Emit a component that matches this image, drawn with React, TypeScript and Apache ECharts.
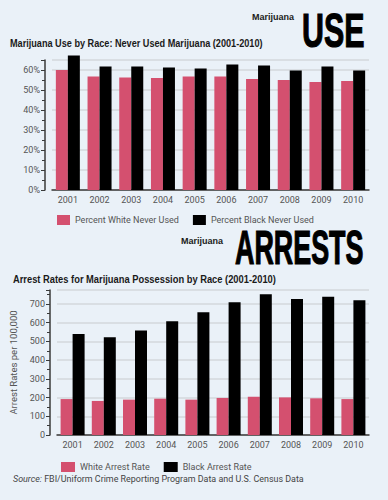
import React, { useEffect, useRef } from "react";
import * as echarts from "echarts";

const years = ["2001", "2002", "2003", "2004", "2005", "2006", "2007", "2008", "2009", "2010"];
const whiteNeverUsed = [60.0, 56.7, 56.2, 56.0, 56.8, 56.7, 55.5, 55.0, 54.0, 54.5];
const blackNeverUsed = [67.2, 61.7, 61.7, 61.3, 60.7, 62.8, 62.3, 59.8, 61.8, 59.7];
const whiteArrestRate = [192, 182, 189, 194, 189, 198, 205, 201, 196, 192];
const blackArrestRate = [540, 522, 559, 608, 656, 709, 752, 727, 739, 720];

const PINK = "#d4506f";
const BG = "#eaf1f8";
const AXIS = "#3a3a3a";
const GRIDLINE = "#d3d7dc";
const LABEL = "#555555";
const FONT = "Roboto, 'DejaVu Sans', sans-serif";
const BOLD = "'Liberation Sans', sans-serif";

export default function App() {
  const ref = useRef<HTMLDivElement>(null);
  useEffect(() => {
    document.body.style.margin = "0";
    const chart = echarts.init(ref.current!, null, { renderer: "svg" });
    const yAxisCommon = {
      offset: 7,
      axisLine: { show: true, lineStyle: { color: AXIS, width: 1.5 } },
      axisTick: { show: true, length: 4, lineStyle: { color: AXIS } },
      minorTick: { show: true, splitNumber: 2, length: 3, lineStyle: { color: AXIS } },
      splitLine: { show: true, lineStyle: { color: GRIDLINE, width: 1.5 } },
    };
    const xAxisCommon = {
      type: "category" as const,
      data: years,
      axisLine: { show: true, lineStyle: { color: AXIS, width: 1.5 } },
      axisTick: { show: false },
      axisLabel: { color: LABEL, fontSize: 9, fontFamily: FONT, margin: 5 },
    };
    chart.setOption({
      animation: false,
      backgroundColor: BG,
      grid: [
        { left: 52, right: 19, top: 60, bottom: 310 },
        { left: 57, right: 19, top: 290, bottom: 65 },
      ],
      xAxis: [
        { ...xAxisCommon, gridIndex: 0 },
        { ...xAxisCommon, gridIndex: 1 },
      ],
      yAxis: [
        {
          ...yAxisCommon,
          type: "value",
          gridIndex: 0,
          min: 0,
          max: 65,
          interval: 10,
          axisLabel: {
            color: LABEL,
            fontSize: 9,
            fontFamily: FONT,
            margin: 5,
            showMaxLabel: false,
            formatter: (v: number) => (v % 10 === 0 ? v + "%" : ""),
          },
        },
        {
          ...yAxisCommon,
          type: "value",
          gridIndex: 1,
          min: 0,
          max: 775,
          interval: 100,
          name: "Arrest Rates per 100,000",
          nameLocation: "middle",
          nameGap: 31,
          nameRotate: 90,
          nameTextStyle: { color: LABEL, fontSize: 9.5, fontFamily: FONT },
          axisLabel: {
            color: LABEL,
            fontSize: 9,
            fontFamily: FONT,
            margin: 5,
            showMaxLabel: false,
            formatter: (v: number) => (v % 100 === 0 ? String(v) : ""),
          },
        },
      ],
      legend: [
        {
          left: 52,
          top: 210,
          itemWidth: 13,
          itemHeight: 10,
          itemGap: 14,
          icon: "rect",
          textStyle: { color: LABEL, fontSize: 9, fontFamily: FONT },
          data: ["Percent White Never Used", "Percent Black Never Used"],
        },
        {
          left: 56,
          top: 457,
          itemWidth: 14,
          itemHeight: 10,
          itemGap: 14,
          icon: "rect",
          textStyle: { color: LABEL, fontSize: 9, fontFamily: FONT },
          data: ["White Arrest Rate", "Black Arrest Rate"],
        },
      ],
      series: [
        {
          name: "Percent White Never Used",
          type: "bar",
          xAxisIndex: 0,
          yAxisIndex: 0,
          data: whiteNeverUsed,
          barWidth: 12,
          barGap: "0%",
          clip: false,
          itemStyle: { color: PINK },
        },
        {
          name: "Percent Black Never Used",
          type: "bar",
          xAxisIndex: 0,
          yAxisIndex: 0,
          data: blackNeverUsed,
          barWidth: 12,
          barGap: "0%",
          clip: false,
          itemStyle: { color: "#000000" },
        },
        {
          name: "White Arrest Rate",
          type: "bar",
          xAxisIndex: 1,
          yAxisIndex: 1,
          data: whiteArrestRate,
          barWidth: 12,
          barGap: "0%",
          itemStyle: { color: PINK },
        },
        {
          name: "Black Arrest Rate",
          type: "bar",
          xAxisIndex: 1,
          yAxisIndex: 1,
          data: blackArrestRate,
          barWidth: 12,
          barGap: "0%",
          itemStyle: { color: "#000000" },
        },
      ],
      graphic: [
        {
          type: "text",
          x: 10,
          y: 43,
          scaleX: 0.87,
          style: {
            text: "Marijuana Use by Race: Never Used Marijuana (2001-2010)",
            fill: "#1a1a1a",
            font: `bold 10.5px ${BOLD}`,
            verticalAlign: "middle",
          },
        },
        {
          type: "text",
          x: 13,
          y: 279,
          scaleX: 0.89,
          style: {
            text: "Arrest Rates for Marijuana Possession by Race (2001-2010)",
            fill: "#1a1a1a",
            font: `bold 10.5px ${BOLD}`,
            verticalAlign: "middle",
          },
        },
        {
          type: "text",
          x: 252,
          y: 17,
          style: {
            text: "Marijuana",
            fill: "#1a1a1a",
            font: `bold 9px ${BOLD}`,
            verticalAlign: "middle",
          },
        },
        {
          type: "text",
          x: 181,
          y: 241,
          style: {
            text: "Marijuana",
            fill: "#1a1a1a",
            font: `bold 9px ${BOLD}`,
            verticalAlign: "middle",
          },
        },
        {
          type: "text",
          x: 302,
          y: 30,
          scaleX: 0.62,
          style: {
            text: "USE",
            fill: "#000",
            stroke: "#000",
            lineWidth: 1.2,
            font: `bold 49px ${BOLD}`,
            verticalAlign: "middle",
          },
        },
        {
          type: "text",
          x: 235,
          y: 247,
          scaleX: 0.56,
          style: {
            text: "ARRESTS",
            fill: "#000",
            stroke: "#000",
            lineWidth: 1.2,
            font: `bold 48px ${BOLD}`,
            verticalAlign: "middle",
          },
        },
        {
          type: "text",
          x: 13,
          y: 478,
          scaleX: 0.94,
          style: {
            text: "{i|Source:} FBI/Uniform Crime Reporting Program Data and U.S. Census Data",
            fill: "#444",
            font: `9.5px ${FONT}`,
            verticalAlign: "middle",
            rich: {
              i: { fontStyle: "italic", fill: "#444", fontSize: 9.5, fontFamily: FONT },
            },
          },
        },
      ],
    });
    return () => chart.dispose();
  }, []);
  return <div ref={ref} style={{ position: "fixed", left: 0, top: 0, width: 388, height: 500 }} />;
}
